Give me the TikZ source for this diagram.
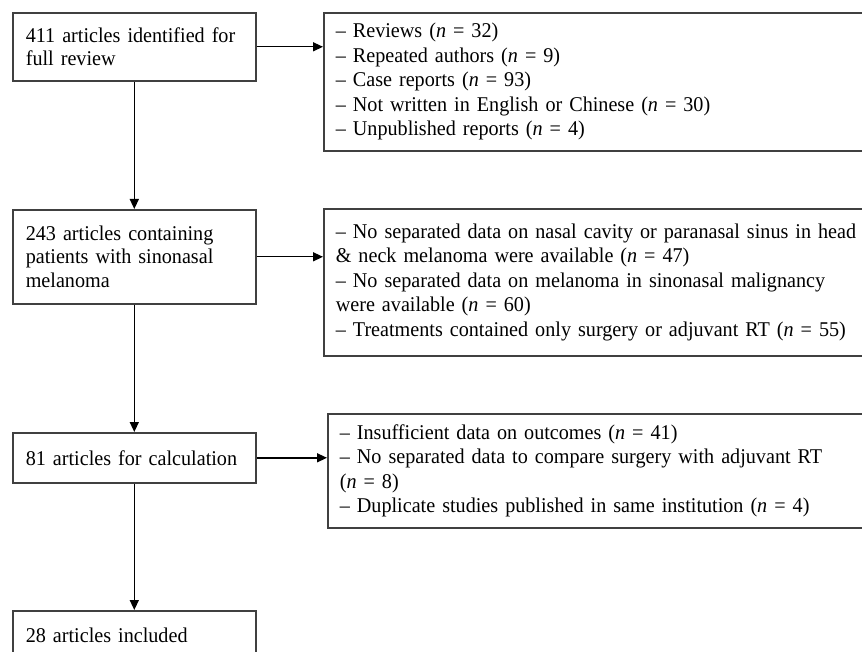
\documentclass[tikz,border=0pt]{standalone}
\usepackage{fontspec}
\setmainfont[FakeStretch=0.96]{Liberation Serif}
\usetikzlibrary{arrows.meta}

\begin{document}
\begin{tikzpicture}[x=1pt,y=-1pt,
  stage/.style={draw=black!75, line width=1.6pt, anchor=north west, minimum width=243pt,
    text width=217pt, inner xsep=13pt, align=left, font=\fontsize{21}{23.5}\selectfont},
  excl/.style={draw=black!75, line width=1.6pt, anchor=north west, minimum width=552pt,
    text width=528pt, inner xsep=12pt, align=left, font=\fontsize{21}{24.5}\selectfont},
  arr/.style={line width=1.4pt, -{Triangle[length=10pt,width=9pt]}}]
  \clip (0,0) rectangle (862,652);

  % main stages
  \node[stage, minimum height=68pt] (full) at (12,12) {411 articles identified for\\full review};
  \node[stage, minimum height=94pt] (melan) at (12,209) {243 articles containing\\patients with sinonasal\\melanoma};
  \node[stage, minimum height=50pt] (calc) at (12,432) {81 articles for calculation};
  \node[stage, minimum height=50pt] (incl) at (12,610) {28 articles included};

  % exclusions
  \node[excl, minimum height=138pt] (out1) at (323,12) {--~Reviews (\textit{n} = 32)\\
    --~Repeated authors (\textit{n} = 9)\\
    --~Case reports (\textit{n} = 93)\\
    --~Not written in English or Chinese (\textit{n} = 30)\\
    --~Unpublished reports (\textit{n} = 4)};
  \node[excl, minimum height=147pt] (out2) at (323,208) {--~No separated data on nasal cavity or paranasal sinus in head\\
    \& neck melanoma were available (\textit{n} = 47)\\
    --~No separated data on melanoma in sinonasal malignancy\\
    were available (\textit{n} = 60)\\
    --~Treatments contained only surgery or adjuvant RT (\textit{n} = 55)};
  \node[excl, minimum height=114pt] (out3) at (327,413) {--~Insufficient data on outcomes (\textit{n} = 41)\\
    --~No separated data to compare surgery with adjuvant RT\\
    (\textit{n} = 8)\\
    --~Duplicate studies published in same institution (\textit{n} = 4)};

  \draw[arr] (full) -- (melan);
  \draw[arr] (melan) -- (calc);
  \draw[arr] (calc) -- (incl);
  \draw[arr] (full.east) -- (out1.west |- full.east);
  \draw[arr] (melan.east) -- (out2.west |- melan.east);
  \draw[arr] (calc.east) -- (out3.west |- calc.east);
\end{tikzpicture}
\end{document}
